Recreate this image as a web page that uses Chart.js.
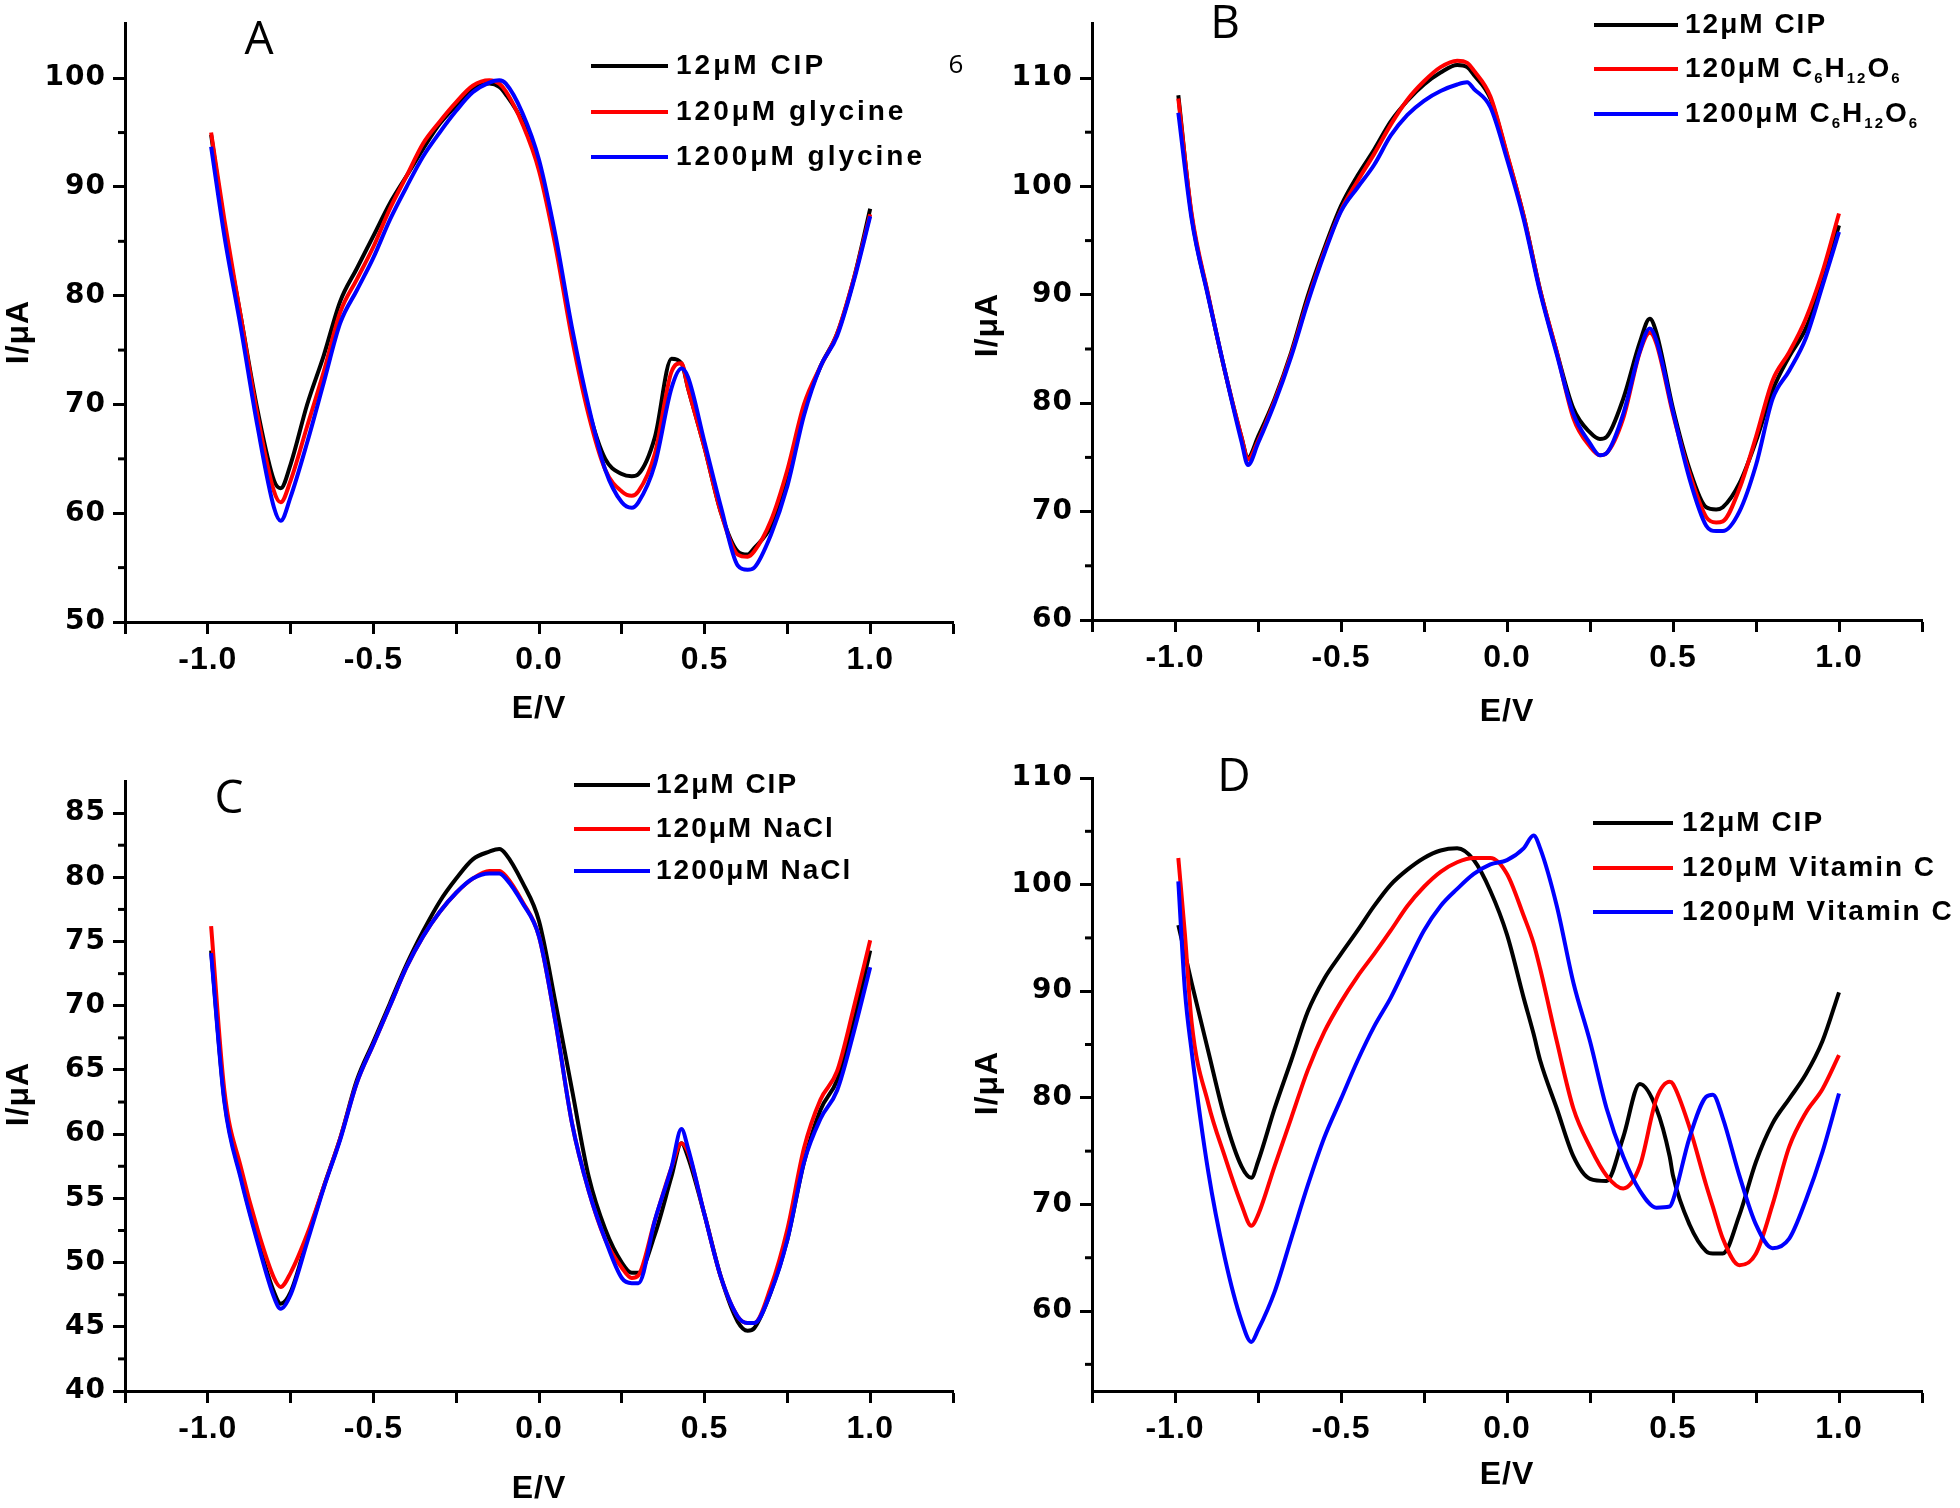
<!DOCTYPE html>
<html>
<head>
<meta charset="utf-8">
<script src="https://cdn.jsdelivr.net/npm/chart.js@4.4.1/dist/chart.umd.min.js"></script>
<style>
  html, body { margin: 0; padding: 0; background: #fff; }
  body { width: 1960px; height: 1508px; position: relative; overflow: hidden; }
  canvas { position: absolute; }
</style>
</head>
<body>
<canvas id="chartA" width="980" height="754" style="left:0;top:0"></canvas>
<canvas id="chartB" width="1000" height="754" style="left:960px;top:0"></canvas>
<canvas id="chartC" width="980" height="754" style="left:0;top:754px"></canvas>
<canvas id="chartD" width="1000" height="754" style="left:960px;top:754px"></canvas>
<script>
// potential (V) sampled along the scans of panels A, B, C
const potentialABC = [-0.99, -0.95, -0.9, -0.85, -0.8, -0.78, -0.75, -0.7, -0.65, -0.6, -0.55, -0.5, -0.45, -0.4, -0.35, -0.3, -0.25, -0.2, -0.15, -0.12, -0.1, -0.05, 0, 0.05, 0.1, 0.15, 0.2, 0.25, 0.28, 0.3, 0.35, 0.4, 0.43, 0.45, 0.5, 0.55, 0.6, 0.63, 0.65, 0.7, 0.75, 0.8, 0.85, 0.9, 0.95, 1.0];

// panel A - glycine
const cipA = [94.8, 86.5, 78, 69.5, 63, 62.3, 64.5, 70, 74.5, 79.5, 82.5, 85.5, 88.5, 91, 93.5, 95.8, 97.5, 99, 99.5, 99.2, 98.5, 96, 91.8, 85, 76.5, 69.5, 65, 63.6, 63.4, 63.6, 67, 74.2, 73.8, 71.5, 66, 60, 56.5, 56.2, 56.8, 58.8, 63.5, 69.5, 73.5, 76.5, 81.5, 88];
const glycine120 = [95, 87, 78, 69, 62, 61, 63, 68, 73, 78.5, 81.5, 84.5, 88, 91, 94, 96, 97.8, 99.3, 99.8, 99.5, 98.8, 95.8, 91.5, 84.5, 76, 69, 64, 62, 61.6, 62, 65.5, 73, 73.8, 71.5, 66, 60, 56.2, 56, 56.5, 59.3, 64, 70, 73.5, 76.5, 81.5, 87.5];
const glycine1200 = [93.7, 85.5, 77, 68, 60.5, 59.3, 61.5, 66.5, 72, 77.5, 80.5, 83.5, 87, 90, 92.8, 95, 97, 98.7, 99.6, 99.8, 99.5, 96.8, 92.5, 85.5, 77, 69.8, 64, 61, 60.5, 61, 64.5, 71.5, 73.3, 72.5, 66.5, 60.5, 55.2, 54.8, 55, 58, 62.5, 69, 73.5, 76.3, 81.3, 87.3];

// panel B - glucose
const cipB = [108.4, 97.3, 89.9, 83, 76.9, 75, 76.9, 80.4, 84.7, 89.9, 94.3, 98.2, 101, 103.4, 106, 107.9, 109.4, 110.5, 111.2, 111, 110.3, 108.1, 102.9, 97.3, 90.4, 84.7, 79.5, 77.3, 76.7, 76.9, 80.4, 85.6, 87.8, 86.5, 79.5, 73.9, 70.4, 70.2, 70.4, 72.6, 76.5, 81.2, 84.3, 86.9, 91.2, 96.4];
const glucose120 = [108.1, 97.5, 90, 83, 76.9, 74.8, 76.5, 80.2, 84.5, 89.5, 94, 97.8, 100.5, 103, 105.7, 108, 109.7, 111, 111.6, 111.4, 110.7, 108.3, 103, 97.3, 90.4, 84.7, 78.6, 76, 75.2, 75.4, 78.6, 84.7, 86.5, 85.5, 79, 73.5, 69.5, 69, 69.1, 72.1, 76.9, 82.1, 84.7, 87.8, 92.1, 97.5];
const glucose1200 = [106.8, 97, 89.8, 83, 76.5, 74.3, 76.3, 80, 84.3, 89.3, 93.8, 97.7, 99.9, 102, 104.7, 106.6, 107.9, 108.8, 109.4, 109.6, 109, 107.3, 102.5, 97, 90.2, 84.5, 79, 76.3, 75.2, 75.4, 79, 84.8, 86.9, 85.8, 79.2, 73, 68.7, 68.2, 68.2, 70, 74.3, 80.4, 83, 86, 90.8, 95.8];

// panel C - NaCl
const cipC = [74.3, 62.7, 56.7, 51.8, 47.7, 46.8, 47.7, 51.8, 55.9, 59.7, 64.2, 67.2, 70.2, 73.2, 75.8, 78.1, 79.9, 81.4, 82, 82.2, 81.8, 79.6, 76.6, 70.2, 63.4, 56.7, 52.6, 50, 49.2, 49.2, 52.2, 56.7, 59.3, 58.2, 53.7, 48.8, 45.4, 44.7, 44.9, 47.7, 51.8, 57.8, 61.9, 64.2, 68.7, 74.3];
const nacl120 = [76.2, 63.4, 57.4, 52.6, 48.8, 48.1, 49.2, 52.2, 55.9, 59.7, 64, 67, 70, 73, 75.4, 77.3, 78.8, 79.9, 80.5, 80.5, 80.1, 78.1, 75.4, 68.7, 60.8, 55.6, 51.8, 49.6, 48.8, 49, 53.3, 57.4, 59.3, 58.6, 53.7, 48.8, 45.8, 45.3, 45.3, 48.1, 52.6, 58.9, 62.7, 64.9, 69.8, 75.1];
const nacl1200 = [74.1, 62.5, 56.5, 51.6, 47.3, 46.4, 47.5, 51.6, 55.8, 59.6, 64, 67, 70, 73, 75.4, 77.3, 78.8, 79.9, 80.3, 80.3, 79.9, 78, 75.4, 68.7, 60.8, 55.6, 51.8, 48.8, 48.4, 48.4, 53.3, 57.4, 60.4, 58.9, 53.7, 48.8, 45.8, 45.3, 45.3, 47.7, 51.8, 57.8, 61.2, 63.4, 67.9, 73];

// panel D - vitamin C
const potentialD = [-0.99, -0.97, -0.95, -0.9, -0.85, -0.8, -0.77, -0.75, -0.7, -0.65, -0.6, -0.55, -0.5, -0.45, -0.4, -0.35, -0.3, -0.25, -0.2, -0.15, -0.1, -0.05, 0, 0.05, 0.08, 0.1, 0.15, 0.2, 0.25, 0.3, 0.35, 0.4, 0.45, 0.49, 0.5, 0.55, 0.6, 0.62, 0.65, 0.7, 0.75, 0.8, 0.85, 0.9, 0.95, 1.0];
const cipD = [96.2, 93.5, 90.8, 84.4, 78.1, 73.6, 72.5, 74, 79, 83.5, 88.1, 91.2, 93.5, 95.7, 98, 100, 101.4, 102.5, 103.2, 103.4, 102.3, 99.4, 95.3, 89.4, 86, 83.5, 79, 74.5, 72.4, 72.2, 76.3, 81.3, 79, 74.5, 72.7, 68.1, 65.6, 65.4, 65.4, 69, 74, 77.6, 79.9, 82.2, 85.3, 89.9];
const vitc120 = [102.5, 95.3, 87.1, 79.5, 74.5, 70, 68, 69, 73.6, 78.1, 82.6, 86.2, 89, 91.4, 93.5, 95.7, 98, 99.8, 101.2, 102.1, 102.5, 102.5, 101, 97.1, 94.5, 92.1, 85.3, 79, 75.4, 72.7, 71.5, 73.6, 79.9, 81.5, 81.3, 77.2, 71.8, 69.8, 66.8, 64.3, 65.4, 70, 75.4, 78.6, 80.8, 84];
const vitc1200 = [100.3, 90, 84.4, 73.1, 65, 59.1, 57.1, 58.2, 61.8, 66.8, 71.8, 76.3, 79.9, 83.5, 86.7, 89.4, 92.6, 95.7, 98, 99.6, 101, 101.9, 102.3, 103.4, 104.6, 103.4, 98, 90.8, 85.3, 79, 74.5, 71.3, 69.7, 69.8, 70.4, 76.3, 80.1, 80.3, 78.1, 72.7, 68.1, 65.9, 66.8, 70.4, 74.9, 80.4];

const labelsA = ['12μM CIP', '120μM glycine', '1200μM glycine'];
const labelsB = ['12μM CIP', '120μM C₆H₁₂O₆', '1200μM C₆H₁₂O₆'];
const labelsC = ['12μM CIP', '120μM NaCl', '1200μM NaCl'];
const labelsD = ['12μM CIP', '120μM Vitamin C', '1200μM Vitamin C'];
const seriesColors = ['#000000', '#ff0000', '#0000ff'];

const FONT = '"Liberation Sans", Arial, sans-serif';
const HEAVY = '"DejaVu Sans", Verdana, sans-serif';
Chart.defaults.font.family = FONT;
Chart.defaults.color = '#000';

const SUBS = '₀₁₂₃₄₅₆₇₈₉';

// legend text, unicode subscript digits drawn small and lowered
function drawRichLabel(ctx, text, x, y) {
    let cx = x;
    for (const ch of text) {
        const k = SUBS.indexOf(ch);
        if (k >= 0) {
            ctx.font = 'bold 15px ' + FONT;
            ctx.fillText(String(k), cx, y + 10);
            cx += ctx.measureText(String(k)).width;
        } else {
            ctx.font = 'bold 28px ' + FONT;
            ctx.fillText(ch, cx, y);
            cx += ctx.measureText(ch).width;
        }
    }
}

const panelDecor = {
    id: 'panelDecor',
    beforeDraw(chart) {
        chart.ctx.letterSpacing = '1px';
    },
    afterDraw(chart, args, opts) {
        const ctx = chart.ctx;
        const yScale = chart.scales.y;
        const left = chart.chartArea.left;
        ctx.save();
        // minor ticks on the y axis
        ctx.strokeStyle = '#000';
        ctx.lineWidth = 3;
        for (let v = opts.minorStart; v < yScale.max; v += opts.minorStep) {
            const py = yScale.getPixelForValue(v);
            ctx.beginPath();
            ctx.moveTo(left - 7, py);
            ctx.lineTo(left, py);
            ctx.stroke();
        }
        ctx.fillStyle = '#000';
        // y axis title
        ctx.save();
        ctx.translate(opts.yTitleX, opts.yTitleY);
        ctx.rotate(-Math.PI / 2);
        ctx.font = 'bold 32px ' + FONT;
        ctx.textAlign = 'center';
        ctx.textBaseline = 'middle';
        ctx.fillText('I/μA', 0, 0);
        ctx.restore();
        // panel letter
        ctx.letterSpacing = '0px';
        ctx.font = '46px "Open Sans", "Noto Sans", sans-serif';
        ctx.textAlign = 'center';
        ctx.textBaseline = 'middle';
        ctx.fillText(opts.letter, opts.letterX, opts.letterY);
        if (opts.note) {
            ctx.font = '26px "Open Sans", sans-serif';
            ctx.fillText(opts.note.text, opts.note.x, opts.note.y);
        }
        // legend
        ctx.textAlign = 'left';
        ctx.letterSpacing = opts.spacing + 'px';
        chart.data.datasets.forEach((ds, i) => {
            const y = opts.rows[i];
            ctx.strokeStyle = ds.borderColor;
            ctx.lineWidth = 4;
            ctx.beginPath();
            ctx.moveTo(opts.lineX1, y);
            ctx.lineTo(opts.lineX2, y);
            ctx.stroke();
            ctx.fillStyle = '#000';
            drawRichLabel(ctx, ds.label, opts.textX, y);
        });
        ctx.restore();
    }
};

function makePanel(id, p) {
    const datasets = p.series.map((vals, i) => ({
        label: p.labels[i],
        data: p.x.map((e, j) => ({ x: e, y: vals[j] })),
        borderColor: seriesColors[i],
        borderWidth: 4,
        pointRadius: 0,
        cubicInterpolationMode: 'monotone',
        fill: false,
        order: 2 - i
    }));
    return new Chart(document.getElementById(id), {
        type: 'line',
        data: { datasets },
        plugins: [panelDecor],
        options: {
            responsive: false,
            animation: false,
            layout: { padding: { left: 0, top: p.area.top, right: p.area.right, bottom: 0 } },
            plugins: {
                legend: { display: false },
                tooltip: { enabled: false },
                panelDecor: p.decor
            },
            scales: {
                x: {
                    type: 'linear',
                    min: -1.25, max: 1.25,
                    afterFit: (s) => { s.height = p.area.xHeight; },
                    border: { display: true, color: '#000', width: 3 },
                    grid: { drawOnChartArea: false, drawTicks: true, tickLength: 12, tickWidth: 3, tickColor: '#000' },
                    ticks: {
                        stepSize: 0.25, autoSkip: false, maxRotation: 0, padding: 7,
                        font: { size: 32, weight: 'bold' },
                        callback: (v) => Math.abs(v * 2 - Math.round(v * 2)) < 1e-9 ? v.toFixed(1) : ''
                    },
                    title: { display: true, text: 'E/V', font: { size: 32, weight: 'bold' }, padding: { top: 0, bottom: p.xTitlePad } }
                },
                y: {
                    min: p.yMin, max: p.yMax,
                    afterFit: (s) => { s.width = p.area.left; },
                    border: { display: true, color: '#000', width: 3 },
                    grid: { drawOnChartArea: false, drawTicks: true, tickLength: 12, tickWidth: 3, tickColor: '#000' },
                    ticks: {
                        stepSize: p.yStep, autoSkip: false, includeBounds: false, padding: 7,
                        font: { size: 28, weight: 'bold', family: HEAVY }
                    }
                }
            }
        }
    });
}

makePanel('chartA', {
    x: potentialABC, series: [cipA, glycine120, glycine1200], labels: labelsA,
    yMin: 50, yMax: 105, yStep: 10,
    area: { left: 125, top: 10, right: 27, xHeight: 132 },
    xTitlePad: 26,
    decor: { letter: 'A', letterX: 259, letterY: 41, lineX1: 591, lineX2: 668, textX: 676, rows: [66, 112, 157], spacing: 3,
             minorStart: 55, minorStep: 10, yTitleX: 19, yTitleY: 332,
             note: { text: '6', x: 956, y: 66 } }
});

makePanel('chartB', {
    x: potentialABC, series: [cipB, glucose120, glucose1200], labels: labelsB,
    yMin: 60, yMax: 115, yStep: 10,
    area: { left: 132, top: 12, right: 38, xHeight: 134 },
    xTitlePad: 23,
    decor: { letter: 'B', letterX: 265, letterY: 25, lineX1: 634, lineX2: 718, textX: 725, rows: [25, 69, 114], spacing: 2,
             minorStart: 65, minorStep: 10, yTitleX: 28, yTitleY: 325 }
});

makePanel('chartC', {
    x: potentialABC, series: [cipC, nacl120, nacl1200], labels: labelsC,
    yMin: 40, yMax: 87.5, yStep: 5,
    area: { left: 125, top: 27, right: 27, xHeight: 117 },
    xTitlePad: 0,
    decor: { letter: 'C', letterX: 229, letterY: 46, lineX1: 574, lineX2: 650, textX: 656, rows: [31, 75, 117], spacing: 2,
             minorStart: 42.5, minorStep: 5, yTitleX: 19, yTitleY: 340 }
});

makePanel('chartD', {
    x: potentialD, series: [cipD, vitc120, vitc1200], labels: labelsD,
    yMin: 52.5, yMax: 110, yStep: 10,
    area: { left: 132, top: 24, right: 38, xHeight: 117 },
    xTitlePad: 14,
    decor: { letter: 'D', letterX: 274, letterY: 24, lineX1: 633, lineX2: 713, textX: 722, rows: [69, 114, 158], spacing: 2,
             minorStart: 55, minorStep: 10, yTitleX: 28, yTitleY: 329 }
});
</script>
</body>
</html>
